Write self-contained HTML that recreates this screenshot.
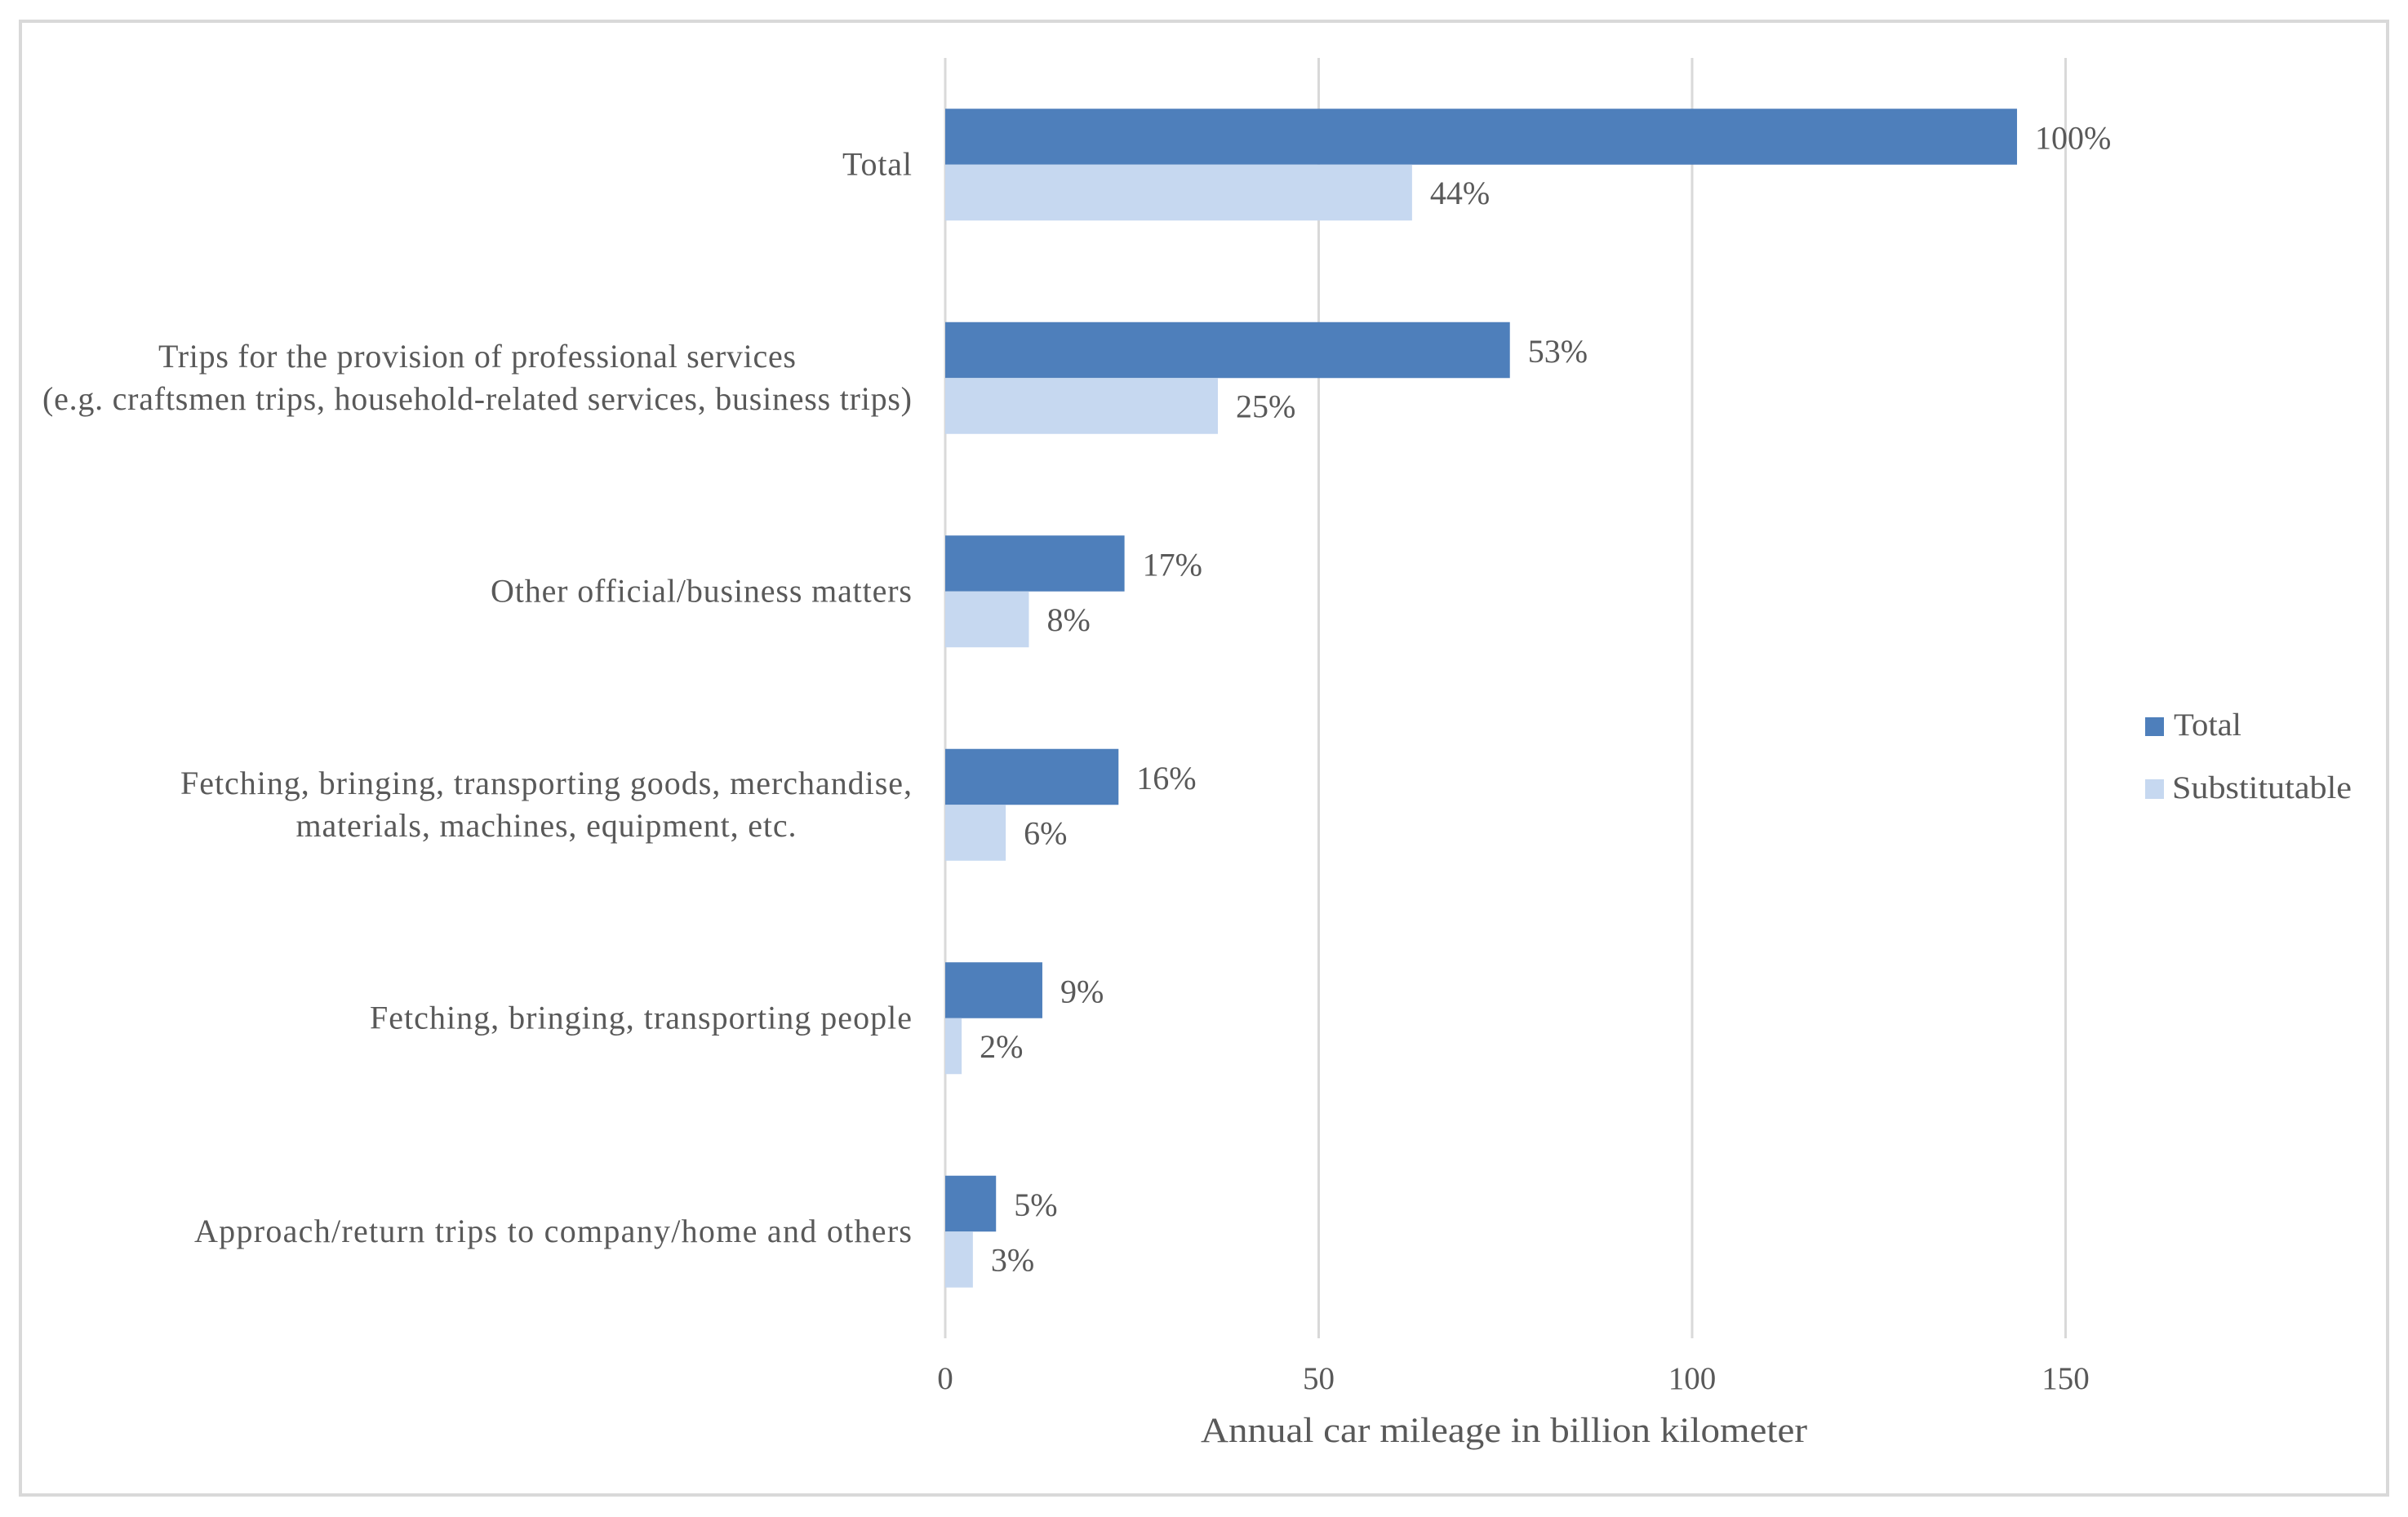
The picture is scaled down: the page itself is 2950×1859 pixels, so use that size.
<!DOCTYPE html>
<html lang="en">
<head>
<meta charset="utf-8">
<title>Annual car mileage by trip purpose</title>
<style>
  html, body { margin: 0; padding: 0; background: #ffffff; }
  body { width: 2950px; height: 1859px; overflow: hidden; }
  svg { display: block; }
  text { font-family: "Liberation Serif", "DejaVu Serif", serif; fill: #595959; }
</style>
</head>
<body>
<svg id="chart" xmlns="http://www.w3.org/2000/svg" width="2950" height="1859" viewBox="0 0 2950 1859">
  <rect x="25" y="26" width="2900" height="1806" fill="#ffffff" stroke="#d9d9d9" stroke-width="4"></rect>
  <g id="grid"></g>
  <g id="bars"></g>
  <g id="values"></g>
  <g id="cats"></g>
  <g id="ticks"></g>
  <text x="1471" y="1767" font-size="43" textLength="743" lengthAdjust="spacingAndGlyphs">Annual car mileage in billion kilometer</text>
  <g>
    <g>
      <rect x="2628" y="879" width="23" height="23" fill="#4e7fbb"></rect>
      <text x="2663" y="901" font-size="39" textLength="83" lengthAdjust="spacingAndGlyphs">Total</text>
    </g>
    <g>
      <rect x="2628" y="955" width="23" height="24" fill="#c6d8f0"></rect>
      <text x="2661" y="978" font-size="39" textLength="220" lengthAdjust="spacingAndGlyphs">Substitutable</text>
    </g>
  </g>
</svg>
<script>
const categories = [
  ["Total"],
  ["Trips for the provision of professional services", "(e.g. craftsmen trips, household-related services, business trips)"],
  ["Other official/business matters"],
  ["Fetching, bringing, transporting goods, merchandise,", "materials, machines, equipment, etc."],
  ["Fetching, bringing, transporting people"],
  ["Approach/return trips to company/home and others"]
];
const totalValues = [143.5, 75.6, 24, 23.2, 13, 6.8];
const substitutableValues = [62.5, 36.5, 11.2, 8.1, 2.2, 3.7];
const totalLabels = ["100%", "53%", "17%", "16%", "9%", "5%"];
const substitutableLabels = ["44%", "25%", "8%", "6%", "2%", "3%"];
const tickValues = [0, 50, 100, 150];

const NS = "http://www.w3.org/2000/svg";
const plotLeft = 1158, plotTop = 71, plotBottom = 1640;
const unitPx = 9.15;
const barHeight = 68.5;
const labelRight = 1117;
const labelSize = 40;
const lineWidthStyle = { "Total": 85, "Trips for": 781, "(e.g.": 1065, "Other": 516, "Fetching, bringing, transporting goods": 896, "materials": 613, "Fetching, bringing, transporting people": 664, "Approach": 879 };
const xScale = v => plotLeft + v * unitPx;
const bandHeight = (plotBottom - plotTop) / categories.length;
const bandCenter = i => plotTop + bandHeight * (i + 0.5);

function fittedWidth(line) {
  for (const key in lineWidthStyle) {
    if (line.indexOf(key) === 0) return lineWidthStyle[key];
  }
  return null;
}

function make(tag, attrs, parent, text) {
  const el = document.createElementNS(NS, tag);
  for (const k in attrs) el.setAttribute(k, attrs[k]);
  if (text !== undefined) el.textContent = text;
  parent.appendChild(el);
  return el;
}

const gridG = document.getElementById("grid");
const barsG = document.getElementById("bars");
const valuesG = document.getElementById("values");
const catsG = document.getElementById("cats");
const ticksG = document.getElementById("ticks");

tickValues.forEach(function (t) {
  const line = make("line", { x1: xScale(t), x2: xScale(t), y1: plotTop, y2: plotBottom, stroke: "#d9d9d9", "stroke-width": 3 }, gridG);
  
  
  const label = make("text", { x: xScale(t), y: 1702, "font-size": 39, "text-anchor": "middle" }, ticksG, String(t));
  
  
});

categories.forEach(function (lines, i) {
  const c = bandCenter(i);

  const darkBar = make("rect", { x: xScale(0), y: c - barHeight, width: xScale(totalValues[i]) - xScale(0), height: barHeight, fill: "#4e7fbb" }, barsG);
  
  

  const lightBar = make("rect", { x: xScale(0), y: c, width: xScale(substitutableValues[i]) - xScale(0), height: barHeight, fill: "#c6d8f0" }, barsG);
  
  

  const darkVal = make("text", { x: xScale(totalValues[i]) + 22, y: c - barHeight / 2 + 15, "font-size": labelSize }, valuesG, totalLabels[i]);
  
  

  const lightVal = make("text", { x: xScale(substitutableValues[i]) + 22, y: c + barHeight / 2 + 14, "font-size": labelSize }, valuesG, substitutableLabels[i]);
  
  

  const lineGap = 52;
  const firstBase = c + 12.5 - (lines.length - 1) * lineGap / 2;
  const widths = lines.map(fittedWidth);
  const blockWidth = Math.max.apply(null, widths);
  lines.forEach(function (t, j) {
    const node = make("text", { x: labelRight - blockWidth / 2, y: firstBase + j * lineGap, "font-size": labelSize, "text-anchor": "middle", textLength: widths[j] }, catsG, t);
    
    
  });
});
</script>
</body>
</html>
